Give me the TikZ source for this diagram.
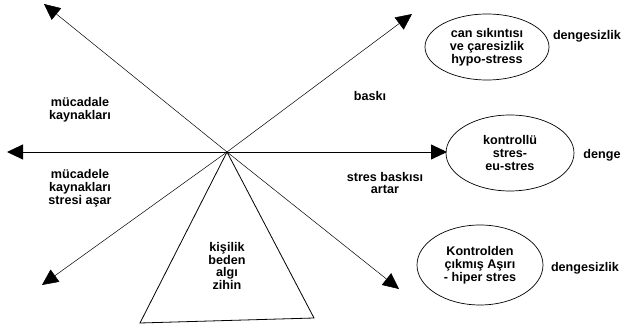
\documentclass[tikz,border=0pt]{standalone}
\usepackage{fontspec}
\setmainfont{Liberation Sans}
\usetikzlibrary{arrows.meta,shapes.geometric}

\begin{document}
\begin{tikzpicture}[x=1pt,y=-1pt]
\tikzstyle{lbl}=[font=\bfseries\fontsize{12.6}{12.8}\selectfont,align=center,inner sep=0pt]
\tikzstyle{state}=[draw,ellipse,line width=0.7pt,inner sep=0pt]
\tikzstyle{ray}=[-{Triangle[length=16pt,width=15pt]},line width=0.5pt]

\useasboundingbox (0,0) rectangle (625,331);

% centre and arrow ends
\coordinate (c) at (227,152);
\coordinate (ul) at (44,4);
\coordinate (ur) at (412,14);
\coordinate (l) at (7,152);
\coordinate (r) at (447,152);
\coordinate (dl) at (42,285);
\coordinate (dr) at (399,289);

% arrows
\foreach \e in {ul,ur,dl,dr} {
  \draw[ray] (c) -- (\e);
}
\draw[ray,line width=0.9pt] (c) -- (l);
\draw[ray,line width=0.9pt] (c) -- (r);

% triangle
\coordinate (tl) at (140,323);
\coordinate (tr) at (314,318);
\draw[line width=0.8pt] (c) -- (tl) -- (tr) -- cycle;
\node[lbl] (base) at (227,266) {kişilik\\beden\\algı\\zihin};

% states
\node[state,minimum width=124pt,minimum height=66pt] (hypo) at (487,47) {};
\node[lbl] (hypot) at (hypo) {can sıkıntısı\\ve çaresizlik\\hypo-stress};
\node[state,minimum width=128pt,minimum height=76pt] (eu) at (510,153) {};
\node[lbl] (eut) at (eu) {kontrollü\\stres-\\eu-stres};
\node[state,minimum width=126pt,minimum height=80pt] (hiper) at (480,265) {};
\node[lbl] (hipert) at (hiper) {Kontrolden\\çıkmış Aşırı\\- hiper stres};

\node[lbl] (d1) at (587,36) {dengesizlik};
\node[lbl] (d2) at (602,155) {denge};
\node[lbl] (d3) at (585,268) {dengesizlik};

% arrow labels
\node[lbl] (mk) at (80,110) {mücadale\\kaynakları};
\node[lbl] (mks) at (80,188) {mücadele\\kaynakları\\stresi aşar};
\node[lbl] (bs) at (370,96) {baskı};
\node[lbl] (sba) at (385,183) {stres baskısı\\artar};
\end{tikzpicture}
\end{document}
